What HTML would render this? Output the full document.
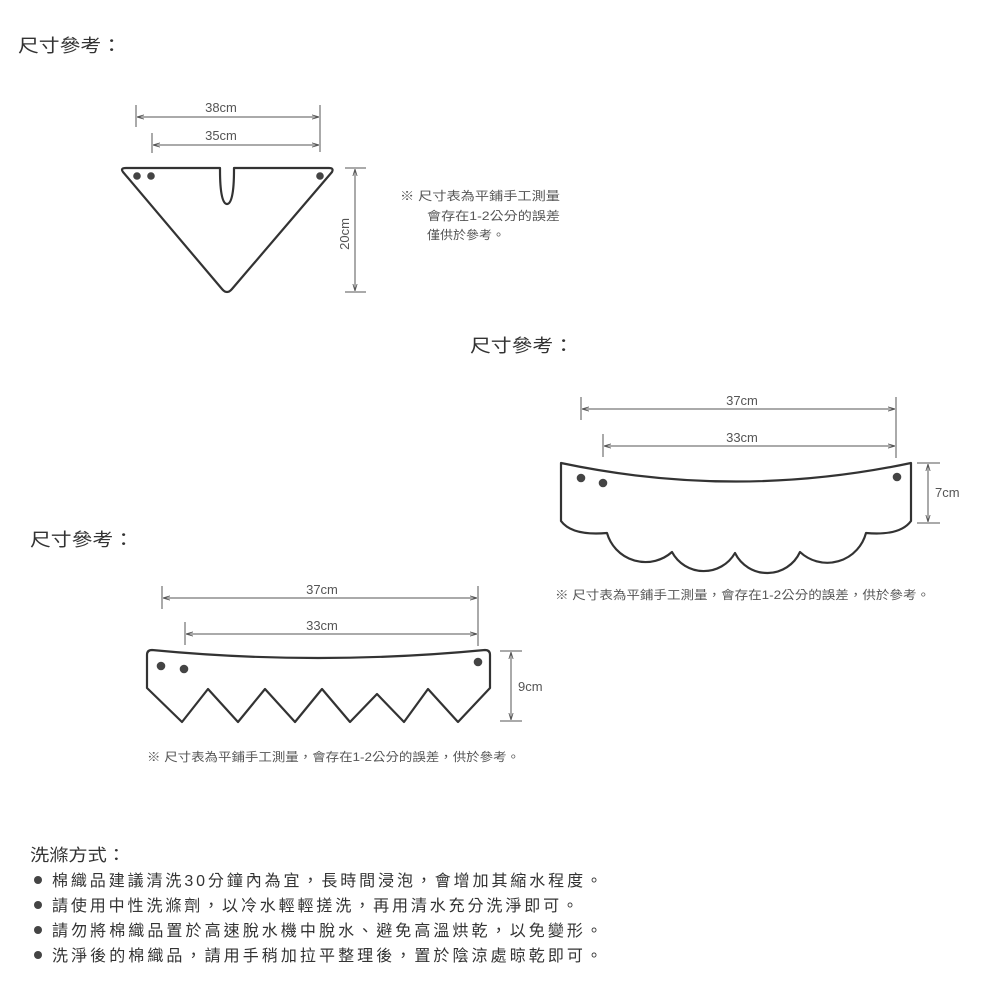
<!DOCTYPE html>
<html><head><meta charset="utf-8"><style>
html,body{margin:0;padding:0;background:#fff;}
svg{display:block;}
text{font-family:"Liberation Sans","Noto Sans CJK TC",sans-serif;fill:#333;}
.d{stroke:#555;stroke-width:1;fill:none;}
.s{stroke:#333;stroke-width:2.2;fill:#fff;stroke-linejoin:round;}
.dim{font-size:13px;fill:#555;}
.note{font-size:12px;fill:#555;}
</style></head><body>
<svg width="1000" height="1000" viewBox="0 0 1000 1000" xmlns="http://www.w3.org/2000/svg">
<defs><marker id="a" viewBox="0 0 10 10" refX="10" refY="5" markerWidth="7" markerHeight="7" orient="auto-start-reverse"><path d="M0,2 L10,5 L0,8" fill="none" stroke="#555" stroke-width="1.2"/></marker></defs>

<text x="18" y="52" font-size="18" textLength="104" lengthAdjust="spacingAndGlyphs">尺寸參考：</text>
<text x="470" y="352" font-size="18" textLength="104" lengthAdjust="spacingAndGlyphs">尺寸參考：</text>
<text x="30" y="546" font-size="18" textLength="104" lengthAdjust="spacingAndGlyphs">尺寸參考：</text>

<!-- triangle -->
<line class="d" x1="136" y1="105" x2="136" y2="127"/><line class="d" x1="320" y1="105" x2="320" y2="152"/>
<line class="d" x1="137" y1="117" x2="319" y2="117" marker-start="url(#a)" marker-end="url(#a)"/>
<text class="dim" x="221" y="112" text-anchor="middle">38cm</text>
<line class="d" x1="152" y1="133" x2="152" y2="153"/>
<line class="d" x1="153" y1="145" x2="319" y2="145" marker-start="url(#a)" marker-end="url(#a)"/>
<text class="dim" x="221" y="140" text-anchor="middle">35cm</text>
<path class="s" d="M126,168 L220,168 L220,170 C220,190 222,204 227,204 C232,204 234,190 234,170 L234,168 L329,168 Q334,168 332,172 L232,289 Q227,295 222,289 L123,172 Q120,168 126,168 Z"/>
<circle cx="137" cy="176" r="3.8" fill="#444"/><circle cx="151" cy="176" r="3.8" fill="#444"/><circle cx="320" cy="176" r="3.8" fill="#444"/>
<line class="d" x1="345" y1="168" x2="366" y2="168"/><line class="d" x1="345" y1="292" x2="366" y2="292"/>
<line class="d" x1="355" y1="169" x2="355" y2="291" marker-start="url(#a)" marker-end="url(#a)"/>
<text class="dim" x="0" y="0" text-anchor="middle" transform="translate(349,234) rotate(-90)">20cm</text>
<text class="note" x="400" y="200" textLength="160" lengthAdjust="spacingAndGlyphs">※ 尺寸表為平鋪手工測量</text>
<text class="note" x="427" y="220" textLength="133" lengthAdjust="spacingAndGlyphs">會存在1-2公分的誤差</text>
<text class="note" x="427" y="239" textLength="78" lengthAdjust="spacingAndGlyphs">僅供於參考。</text>

<!-- scallop -->
<line class="d" x1="581" y1="397" x2="581" y2="420"/><line class="d" x1="896" y1="397" x2="896" y2="458"/>
<line class="d" x1="582" y1="409" x2="895" y2="409" marker-start="url(#a)" marker-end="url(#a)"/>
<text class="dim" x="742" y="405" text-anchor="middle">37cm</text>
<line class="d" x1="603" y1="434" x2="603" y2="457"/>
<line class="d" x1="604" y1="446" x2="895" y2="446" marker-start="url(#a)" marker-end="url(#a)"/>
<text class="dim" x="742" y="442" text-anchor="middle">33cm</text>
<path class="s" d="M561,463 Q736,500 911,463 L911,521 Q900,536 866,533 A40,40 0 0 1 800,552 A36,36 0 0 1 735,553 A36,36 0 0 1 672,552 A40,40 0 0 1 607,533 Q572,536 561,521 Z"/>
<circle cx="581" cy="478" r="4.3" fill="#444"/><circle cx="603" cy="483" r="4.3" fill="#444"/><circle cx="897" cy="477" r="4.3" fill="#444"/>
<line class="d" x1="917" y1="463" x2="940" y2="463"/><line class="d" x1="917" y1="523" x2="940" y2="523"/>
<line class="d" x1="928" y1="464" x2="928" y2="522" marker-start="url(#a)" marker-end="url(#a)"/>
<text class="dim" x="935" y="497">7cm</text>
<text class="note" x="555" y="599" textLength="375" lengthAdjust="spacingAndGlyphs">※ 尺寸表為平鋪手工測量，會存在1-2公分的誤差，供於參考。</text>

<!-- zigzag -->
<line class="d" x1="162" y1="586" x2="162" y2="609"/><line class="d" x1="478" y1="586" x2="478" y2="646"/>
<line class="d" x1="163" y1="598" x2="477" y2="598" marker-start="url(#a)" marker-end="url(#a)"/>
<text class="dim" x="322" y="594" text-anchor="middle">37cm</text>
<line class="d" x1="185" y1="622" x2="185" y2="645"/>
<line class="d" x1="186" y1="634" x2="477" y2="634" marker-start="url(#a)" marker-end="url(#a)"/>
<text class="dim" x="322" y="630" text-anchor="middle">33cm</text>
<path class="s" d="M152,650 Q318,666 485,650 Q490,650 490,655 L490,688 L458,722 L428,689 L404,722 L377,694 L350,722 L322,689 L295,722 L265,689 L238,722 L208,689 L182,722 L147,688 L147,655 Q147,650 152,650 Z"/>
<circle cx="161" cy="666" r="4.3" fill="#444"/><circle cx="184" cy="669" r="4.3" fill="#444"/><circle cx="478" cy="662" r="4.3" fill="#444"/>
<line class="d" x1="500" y1="651" x2="522" y2="651"/><line class="d" x1="500" y1="721" x2="522" y2="721"/>
<line class="d" x1="511" y1="652" x2="511" y2="720" marker-start="url(#a)" marker-end="url(#a)"/>
<text class="dim" x="518" y="691">9cm</text>
<text class="note" x="147" y="761" textLength="373" lengthAdjust="spacingAndGlyphs">※ 尺寸表為平鋪手工測量，會存在1-2公分的誤差，供於參考。</text>

<!-- washing -->
<text x="30" y="861" font-size="17" textLength="96" lengthAdjust="spacingAndGlyphs">洗滌方式：</text>
<circle cx="38" cy="880" r="4" fill="#444"/><circle cx="38" cy="905" r="4" fill="#444"/><circle cx="38" cy="930" r="4" fill="#444"/><circle cx="38" cy="955" r="4" fill="#444"/>
<text x="52" y="886" font-size="16" fill="#444" textLength="550" lengthAdjust="spacing">棉織品建議清洗30分鐘內為宜，長時間浸泡，會增加其縮水程度。</text>
<text x="52" y="911" font-size="16" fill="#444" textLength="526" lengthAdjust="spacing">請使用中性洗滌劑，以冷水輕輕搓洗，再用清水充分洗淨即可。</text>
<text x="52" y="936" font-size="16" fill="#444" textLength="550" lengthAdjust="spacing">請勿將棉織品置於高速脫水機中脫水、避免高溫烘乾，以免變形。</text>
<text x="52" y="961" font-size="16" fill="#444" textLength="550" lengthAdjust="spacing">洗淨後的棉織品，請用手稍加拉平整理後，置於陰涼處晾乾即可。</text>
</svg>
</body></html>
